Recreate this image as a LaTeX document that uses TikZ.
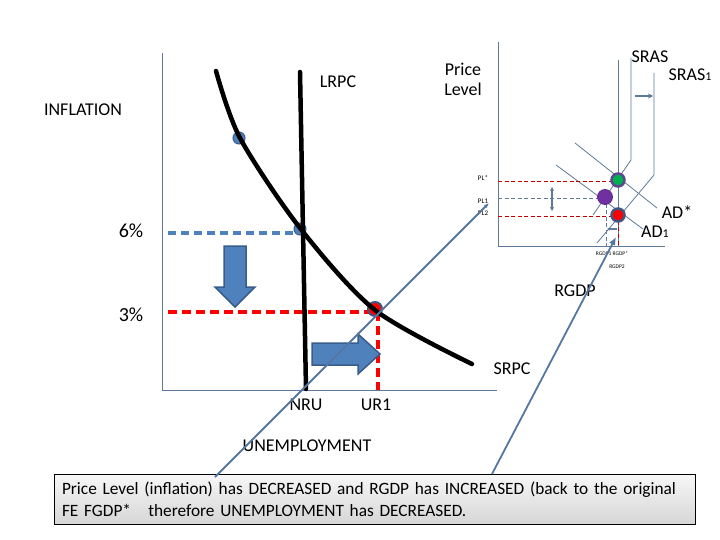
\documentclass[tikz,border=0pt]{standalone}
\usepackage{fontspec}
\setmainfont{Carlito}
\usepackage{xcolor}
\usepackage{tikz}
\usetikzlibrary{arrows.meta,positioning}
\definecolor{axisgray}{RGB}{94,122,152}
\definecolor{arrowblue}{RGB}{79,129,189}
\definecolor{arrowedge}{RGB}{56,93,138}
\definecolor{linkblue}{RGB}{84,118,162}
\definecolor{dotgreen}{RGB}{0,176,80}
\definecolor{dotpurple}{RGB}{112,48,160}
\definecolor{rimpurple}{RGB}{92,72,140}
\definecolor{rimblue}{RGB}{66,86,130}

\begin{document}
\begin{tikzpicture}[x=1pt,y=-1pt,
    lbl/.style={font=\fontsize{18}{20}\selectfont,inner sep=0pt},
    tiny/.style={font=\fontsize{7}{8}\selectfont,inner sep=0pt},
    micro/.style={font=\fontsize{5.5}{6}\selectfont,inner sep=0pt},
    axis/.style={draw=axisgray,line width=0.9pt},
    curve/.style={draw=black,line width=4.5pt,line cap=round},
    thin/.style={draw=axisgray,line width=0.8pt},
    bluedash/.style={draw=arrowblue,line width=4pt,dash pattern=on 8pt off 5pt},
    reddash/.style={draw=red,line width=4pt,dash pattern=on 9pt off 5pt},
    smallred/.style={draw=red!75!black,line width=0.8pt,dash pattern=on 4pt off 2.5pt},
    smallblue/.style={draw=axisgray,line width=0.8pt,dash pattern=on 4pt off 2.5pt},
    blockarrow/.style={fill=arrowblue,draw=arrowedge,line width=1.5pt,line join=miter},
    link/.style={draw=linkblue,line width=1.8pt},
    bluedot/.style={circle,fill=arrowblue,draw=arrowedge,line width=1pt,
                    minimum size=12pt,inner sep=0pt},
    reddot/.style={circle,fill=red,draw=rimblue,line width=2pt,
                   minimum size=14pt,inner sep=0pt}
  ]
    \useasboundingbox (0,0) rectangle (720,540);

    % Left graph: axes
    \draw[axis] (162,53) -- (162,390) -- (497,390);
    \node[lbl] (infl) at (83,110) {INFLATION};
    \node[lbl] (unemp) at (307,446) {UNEMPLOYMENT};

    % Dots on the Phillips curve
    \node[bluedot] (dotA) at (239,138) {};
    \node[bluedot] (dotB) at (300,229) {};

    % Rates
    \draw[bluedash] (168,233) -- (298,233);
    \draw[reddash] (168,312) -- (376,312);
    \draw[reddash] (378,312) -- (378,390);
    \node[lbl,font=\fontsize{20}{22}\selectfont] (six) at (131,231) {6\%};
    \node[lbl,font=\fontsize{20}{22}\selectfont] (three) at (131,315) {3\%};
    \node[reddot] (dotR) at (375,309) {};

    % LRPC and SRPC
    \draw[curve] (300,72) -- (306,389);
    \draw[curve] plot[smooth] coordinates
      {(216,71) (240,138) (300,228) (375,310) (472,364)};
    \node[lbl] (lrpc) at (338,82) {LRPC};
    \node[lbl] (srpc) at (512,369) {SRPC};
    \node[lbl] (nru) at (306,405) {NRU};
    \node[lbl] (ur1) at (376,405) {UR1};

    % Block arrows
    \draw[blockarrow] (224,246) -- (246,246) -- (246,287) -- (255,287)
      -- (235,307) -- (215,287) -- (224,287) -- cycle;
    \draw[blockarrow] (312,343) -- (358,343) -- (358,334) -- (380,354)
      -- (358,374) -- (358,365) -- (312,365) -- cycle;

    % Right graph: axes
    \draw[axis] (498,42) -- (498,246) -- (665,246);
    \node[lbl,align=center] (plevel) at (463,79) {Price\\Level};
    \node[lbl] (rgdp) at (575,291) {RGDP};

    % LRAS, SRAS, AD
    \draw[thin] (618,60) -- (618,246);
    \draw[thin] (631,58) -- (631,160) -- (593,215);
    \draw[thin] (654,73) -- (654,175) -- (597,243);
    \draw[thin] (575,143) -- (657,208);
    \draw[thin] (556,165) -- (643,229);
    \node[lbl] (sras) at (650,57) {SRAS};
    \node[lbl] (sras1) at (690,75) {SRAS{\fontsize{12}{12}\selectfont 1}};
    \node[lbl] (adstar) at (677,212) {AD*};
    \node[lbl] (ad1) at (655,232) {AD{\fontsize{12}{12}\selectfont 1}};
    \draw[draw=axisgray,line width=2pt,-{Stealth[length=5pt,width=5pt]}]
      (635,96) -- (653,96);

    % Price levels
    \draw[smallred] (498,181) -- (612,181);
    \draw[smallblue] (498,198) -- (598,198);
    \draw[smallred] (498,216) -- (612,216);
    \draw[smallblue] (606,204) -- (606,246);
    \draw[smallred] (618,221) -- (618,246);
    \draw[draw=axisgray,line width=1.2pt,-{Stealth[length=3pt,width=3pt]}]
      (617,229) -- (607,229);
    \draw[draw=axisgray,line width=1.5pt,{Stealth[length=4pt,width=4pt]}-{Stealth[length=4pt,width=4pt]}]
      (552,187) -- (552,211);
    \node[tiny] (plstar) at (483,178) {PL*};
    \node[tiny] (pl1) at (483,201) {PL1};
    \node[tiny] (pl2) at (483,213) {PL2};
    \node[micro] (gdp1) at (612,254) {RGDP1 RGDP*};
    \node[micro] (gdp2) at (617,267) {RGDP2};

    % Equilibrium dots
    \node[circle,fill=dotgreen,draw=rimpurple,line width=2.5pt,
          minimum size=13pt,inner sep=0pt] (eqstar) at (618,180) {};
    \node[circle,fill=dotpurple,draw=dotpurple!85!black,line width=0.8pt,
          minimum size=15pt,inner sep=0pt] (eq1) at (605,197) {};
    \node[circle,fill=red,draw=rimblue,line width=2.5pt,
          minimum size=13pt,inner sep=0pt] (eq2) at (618,215) {};

    % Note box
    \node[draw=black,line width=0.9pt,top color=gray!6,bottom color=gray!32,
          text width=625pt,inner xsep=8pt,inner ysep=0pt,minimum height=50pt,
          align=left,font=\fontsize{17.3}{22}\selectfont] (note) at (374.5,499)
      {Price Level (inflation) has DECREASED and RGDP has INCREASED (back to the original\\
       FE FGDP*\ \ \ therefore UNEMPLOYMENT has DECREASED.};

    % Connectors
    \coordinate (tailA) at (215,477);
    \coordinate (headA) at (489,203);
    \coordinate (tailB) at (492,474);
    \coordinate (headB) at (616,237);
    \draw[link,-{Latex[length=5pt,width=4pt]}] (tailA) -- (headA);
    \draw[link,-{Latex[length=8pt,width=7pt]}] (tailB) -- (headB);
  \end{tikzpicture}
\end{document}
